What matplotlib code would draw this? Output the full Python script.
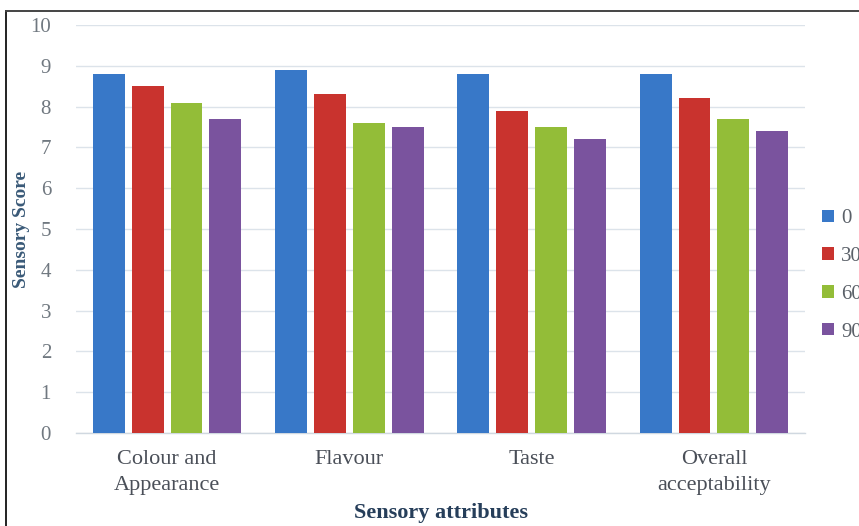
import matplotlib.pyplot as plt
import numpy as np
from matplotlib.lines import Line2D

categories = ["Colour and\nAppearance", "Flavour", "Taste", "Overall\nacceptability"]
series_labels = ["0", "30", "60", "90"]
scores_0 = [8.8, 8.9, 8.8, 8.8]
scores_30 = [8.5, 8.3, 7.9, 8.2]
scores_60 = [8.1, 7.6, 7.5, 7.7]
scores_90 = [7.7, 7.5, 7.2, 7.4]
yticks = [0, 1, 2, 3, 4, 5, 6, 7, 8, 9, 10]

colors = ["#3878C8", "#C9332E", "#93BD38", "#7A539E"]
series = [scores_0, scores_30, scores_60, scores_90]

plt.rcParams['font.family'] = ['Liberation Serif', 'DejaVu Serif']

fig = plt.figure(figsize=(8.59, 5.26), dpi=100)
ax = fig.add_axes([76 / 859, 1 - 433 / 526, 729 / 859, 408 / 526])

x = np.arange(len(categories))
width = 0.175
step = 0.213
for i, (vals, col) in enumerate(zip(series, colors)):
    ax.bar(x + (i - 1.5) * step, vals, width=width, color=col, label=series_labels[i], zorder=3)

ax.set_xlim(-0.5, 3.5)
ax.set_ylim(0, 10)
ax.set_yticks(yticks)
ax.yaxis.grid(True, color="#DCE3EA", linewidth=1.0, zorder=0)
ax.set_axisbelow(True)
for s in ["top", "right", "left"]:
    ax.spines[s].set_visible(False)
ax.spines["bottom"].set_color("#D0D8E0")
ax.spines["bottom"].set_linewidth(1.0)
ax.tick_params(axis="both", length=0, colors="#555A60")
ax.tick_params(axis="y", pad=18, labelsize=15)
ax.tick_params(axis="x", pad=12, labelsize=16)
ax.set_xticks(x)
ax.set_xticklabels(categories, color="#4A4F58", linespacing=1.5)
for t in ax.get_yticklabels():
    t.set_color("#707880")

ax.set_ylabel("Sensory Score", fontsize=14, fontweight="bold", color="#3A5A78")
ax.set_xlabel("Sensory attributes", fontsize=16, fontweight="bold", color="#263E5A", labelpad=6)
ax.yaxis.set_label_coords(-46 / 729, 0.5)

leg = fig.legend(loc="upper left", bbox_to_anchor=(814 / 859, 1 - 201 / 526), frameon=False,
                 fontsize=15, handlelength=0.55, handleheight=0.55, handletextpad=0.35,
                 labelspacing=0.9, borderaxespad=0)
for t in leg.get_texts():
    t.set_color("#5A6068")

# outer frame
fig.add_artist(Line2D([6 / 859, 6 / 859], [0, 1 - 11 / 526], transform=fig.transFigure,
                      color="#222222", linewidth=1.4))
fig.add_artist(Line2D([6 / 859, 1], [1 - 11 / 526, 1 - 11 / 526], transform=fig.transFigure,
                      color="#444444", linewidth=1.4))

fig.savefig("out.png", dpi=100)
